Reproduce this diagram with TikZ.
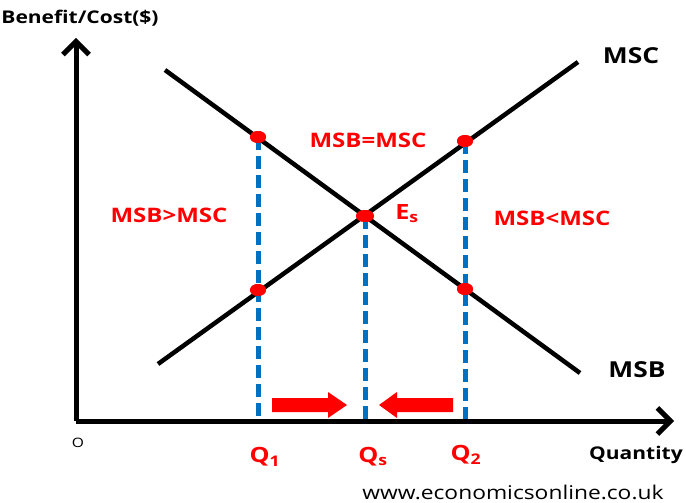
\documentclass[tikz,border=0pt]{standalone}
\usepackage{fontspec}
\setmainfont{Open Sans}[FakeStretch=1.2]
\usetikzlibrary{arrows.meta,shapes.geometric}
\definecolor{dblue}{RGB}{0,112,192}
\definecolor{dred}{RGB}{255,0,0}
\tikzset{
  axis/.style={line width=5pt,-{Straight Barb[width=26pt,length=13pt,line width=5pt]}},
  curve/.style={line width=4.5pt},
  guide/.style={dblue,line width=5pt,dash pattern=on 13pt off 6pt},
  dot/.style={ellipse,fill=dred,minimum width=16pt,minimum height=12pt,inner sep=0pt},
  rlab/.style={text=dred,font=\fontsize{20}{24}\selectfont\bfseries},
  qlab/.style={text=dred,font=\fontsize{21}{24}\selectfont\bfseries},
  klab/.style={text=black,font=\fontsize{22}{26}\selectfont\bfseries}
}
\begin{document}
\begin{tikzpicture}[x=1pt,y=-1pt]
\useasboundingbox (0,0) rectangle (686,503);
\coordinate (origin) at (76,421);
\coordinate (ytop) at (76,38);
\coordinate (xend) at (674,421);
\draw[axis] (origin) -- (ytop);
\draw[axis] (origin) -- (xend);
\coordinate (msbA) at (165,70);
\coordinate (msbB) at (580,373);
\coordinate (mscA) at (158,364);
\coordinate (mscB) at (578,62);
\draw[curve] (msbA) -- (msbB);
\draw[curve] (mscA) -- (mscB);
\coordinate (b1) at (258,419);
\coordinate (bs) at (365,419);
\coordinate (b2) at (465,419);
\node[dot] (d1) at (258,137) {};
\node[dot] (d2) at (258,290) {};
\node[dot] (d3) at (465,141) {};
\node[dot] (d4) at (465,289) {};
\node[dot,minimum width=18pt] (es) at (365,216) {};
\draw[guide] (d1.center) -- (b1);
\draw[guide] (d3.center) -- (b2);
\draw[guide] (es.center) -- (bs);
\node[dot] at (258,137) {};
\node[dot] at (258,290) {};
\node[dot] at (465,141) {};
\node[dot] at (465,289) {};
\node[dot,minimum width=18pt] at (365,216) {};
\fill[dred] (272,398) -- (328,398) -- (328,392) -- (347,405) -- (328,418) -- (328,412) -- (272,412) -- cycle;
\fill[dred] (453,398) -- (397,398) -- (397,392) -- (379,405) -- (397,418) -- (397,412) -- (453,412) -- cycle;
\node[rlab] (eq) at (368,140) {MSB=MSC};
\node[rlab] (gt) at (169,215) {MSB>MSC};
\node[rlab] (lt) at (552,218) {MSB<MSC};
\node[qlab] (esl) at (407,214) {E\textsubscript{s}};
\node[klab] (msc) at (631,56) {MSC};
\node[klab] (msb) at (637,370) {MSB};
\node[qlab] (q1) at (265,457) {Q\textsubscript{1}};
\node[qlab] (qs) at (373,457) {Q\textsubscript{s}};
\node[qlab] (q2) at (466,455) {Q\textsubscript{2}};
\node[klab,font=\fontsize{17.5}{20}\selectfont\bfseries] (qty) at (636,455) {Quantity};
\node[font=\fontsize{13}{14}\selectfont,text=black] (o) at (78,443) {O};
\node[klab,font=\fontsize{17.5}{20}\selectfont\bfseries] (bc) at (80,18) {Benefit/Cost(\$)};
\node[anchor=base,font=\fontsize{19}{22}\selectfont,text=black,inner sep=1pt] (url) at (513,499) {www.economicsonline.co.uk};
\end{tikzpicture}
\end{document}
